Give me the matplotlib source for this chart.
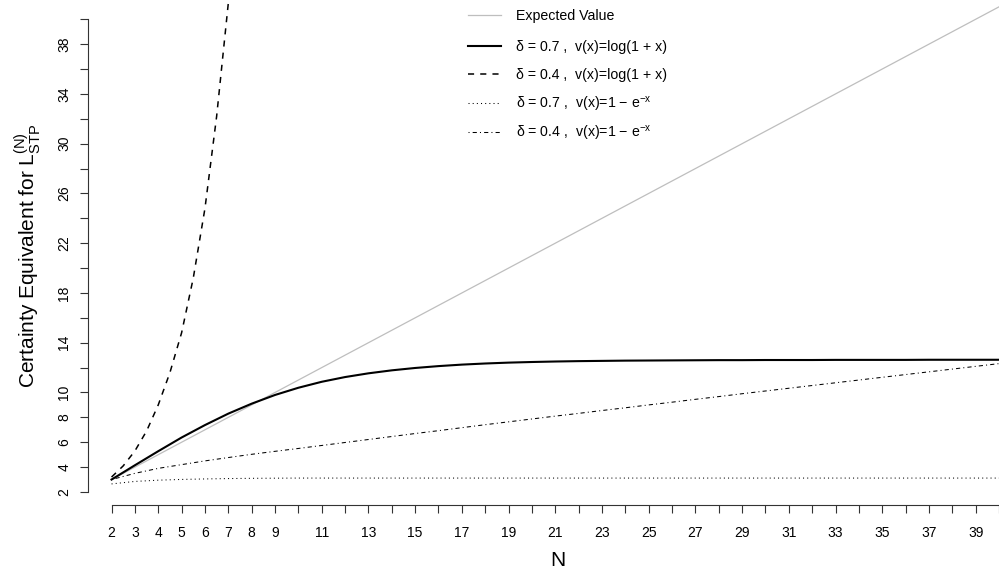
import numpy as np
import matplotlib
matplotlib.use("Agg")
import matplotlib.pyplot as plt
from matplotlib.legend import Legend

plt.rcParams['font.family'] = ['Liberation Sans', 'DejaVu Sans']
plt.rcParams['mathtext.fontset'] = 'custom'
plt.rcParams['mathtext.rm'] = 'Liberation Sans'
plt.rcParams['mathtext.it'] = 'Liberation Sans'
plt.rcParams['mathtext.bf'] = 'Liberation Sans:bold'

# number of stages N
n_vals = list(range(2, 41))

# expected value of the lottery
expected_value = [3, 4, 5, 6, 7, 8, 9, 10, 11, 12, 13, 14, 15, 16, 17, 18, 19, 20, 21, 22,
                  23, 24, 25, 26, 27, 28, 29, 30, 31, 32, 33, 34, 35, 36, 37, 38, 39, 40, 41]

# delta = 0.7, v(x) = log(1+x)
ce_d07_log = [3.0, 4.15, 5.28, 6.38, 7.38, 8.3, 9.1, 9.8, 10.38, 10.86, 11.24, 11.54, 11.78,
              11.97, 12.12, 12.24, 12.33, 12.4, 12.45, 12.49, 12.52, 12.54, 12.56, 12.57,
              12.58, 12.59, 12.6, 12.6, 12.61, 12.61, 12.61, 12.62, 12.62, 12.62, 12.62,
              12.63, 12.63, 12.63, 12.63]

# delta = 0.4, v(x) = log(1+x)  (explodes quickly, only the first stages)
n_short = [2, 2.5, 3, 3.5, 4, 4.5, 5, 5.5, 6, 6.5, 7, 7.5]
ce_d04_log = [3.2, 4.1, 5.3, 6.9, 9.0, 11.6, 14.8, 19.2, 24.8, 32.2, 41.3, 53.0]

# delta = 0.7, v(x) = 1 - exp(-x)
ce_d07_exp = [2.65, 2.85, 2.95, 3.01, 3.05, 3.08, 3.1, 3.11, 3.12, 3.12, 3.12, 3.12, 3.12,
              3.12, 3.12, 3.12, 3.12, 3.12, 3.12, 3.12, 3.12, 3.12, 3.12, 3.12, 3.12, 3.12,
              3.12, 3.12, 3.12, 3.12, 3.12, 3.12, 3.12, 3.12, 3.12, 3.12, 3.12, 3.12, 3.12]

# delta = 0.4, v(x) = 1 - exp(-x)
ce_d04_exp = [3.0, 3.5, 3.9, 4.2, 4.5, 4.77, 5.03, 5.27, 5.5, 5.74, 5.98, 6.22, 6.46, 6.7,
              6.93, 7.17, 7.41, 7.64, 7.87, 8.1, 8.32, 8.55, 8.77, 9.0, 9.22, 9.45, 9.67,
              9.9, 10.12, 10.34, 10.56, 10.78, 11.0, 11.22, 11.44, 11.66, 11.88, 12.1, 12.32]

x_ticks = list(range(2, 41))
x_labels = ['2', '3', '4', '5', '6', '7', '8', '9'] + \
           [str(t) if t % 2 == 1 else '' for t in range(10, 41)]
y_ticks = list(range(2, 41, 2))
y_labels = ['2', '4', '6', '8', '10', '', '14', '', '18', '', '22', '', '26', '',
            '30', '', '34', '', '38', '']

legend_labels = ['Expected Value',
                 'δ = 0.7 ,  v(x)=log(1 + x)',
                 'δ = 0.4 ,  v(x)=log(1 + x)',
                 'δ = 0.7 ,  v(x)=1 − e$^{-x}$',
                 'δ = 0.4 ,  v(x)=1 − e$^{-x}$']
# vertical position of each legend row, in pixels from the top
legend_rows = [16, 47, 75, 104, 133]

fig = plt.figure(figsize=(9.99, 5.76), dpi=100)
ax = fig.add_axes([88 / 999, (576 - 505) / 576, 911 / 999, 505 / 576])

lines = []
lines += ax.plot(n_vals, expected_value, color='#bebebe', lw=0.9)
lines += ax.plot(n_vals, ce_d07_log, color='black', lw=1.5)
lines += ax.plot(n_short, ce_d04_log, color='black', lw=1.1, linestyle=(0, (4, 4)))
lines += ax.plot(n_vals, ce_d07_exp, color='black', lw=0.75, linestyle=(0, (1, 3)))
lines += ax.plot(n_vals, ce_d04_exp, color='black', lw=0.75, linestyle=(0, (1, 3, 4, 3)))

ax.set_xlim(0.992, 39.74)
ax.set_ylim(0.955, 41.55)

for side in ('top', 'right'):
    ax.spines[side].set_visible(False)
ax.spines['left'].set_bounds(2, 40)
ax.spines['bottom'].set_bounds(2, 40)
for side in ('left', 'bottom'):
    ax.spines[side].set_linewidth(0.8)
    ax.spines[side].set_color('#333333')

ax.set_xticks(x_ticks)
ax.set_xticklabels(x_labels)
ax.set_yticks(y_ticks)
ax.set_yticklabels(y_labels, rotation=90, va='center')
ax.tick_params(axis='both', length=6, width=0.8, color='#333333', labelsize=10)
ax.tick_params(axis='x', pad=9)
ax.tick_params(axis='y', pad=6)

ax.set_xlabel('N', fontsize=15)
ax.xaxis.set_label_coords((558 - 88) / 911, -(561 - 505) / 505)
ax.xaxis.label.set_va('center')
ax.set_ylabel(r'Certainty Equivalent for L$_{\mathrm{STP}}^{(\mathrm{N})}$', fontsize=15)
ax.yaxis.set_label_coords(-(88 - 28) / 911, (505 - 256) / 505)
ax.yaxis.label.set_va('center')

# one borderless legend per row so the rows sit at fixed heights
for line, label, row in zip(lines, legend_labels, legend_rows):
    leg = Legend(ax, [line], [label], loc='center left',
                 bbox_to_anchor=(468 / 999, 1 - row / 576),
                 bbox_transform=fig.transFigure, frameon=False, fontsize=10.2,
                 handlelength=2.3, handletextpad=1.1,
                 borderpad=0, borderaxespad=0)
    ax.add_artist(leg)

fig.savefig('out.png', dpi=100)
